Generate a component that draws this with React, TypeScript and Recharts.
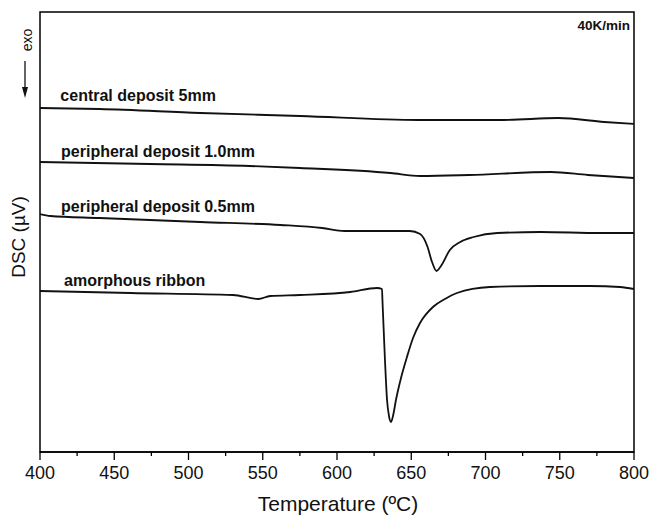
import React from 'react';
import {
  LineChart,
  Line,
  XAxis,
  YAxis,
  ReferenceArea,
  ReferenceDot,
  Customized
} from 'recharts';

// temperatures (ºC) and DSC signal (arbitrary µV offset units)
const centralT = [400, 440, 508, 575, 655, 712, 749, 780, 800];
const centralV = [34.4, 34.3, 33.9, 33.6, 33.2, 33.2, 33.4, 33.0, 32.8];

const periph10T = [400, 474, 541, 575, 636, 656, 689, 744, 769, 800];
const periph10V = [29.0, 28.8, 28.6, 28.4, 27.9, 27.6, 27.7, 28.0, 27.7, 27.4];

const periph05T = [400, 407, 440, 508, 562, 590, 605, 649, 656, 661, 664, 667, 670, 676, 683, 692, 708, 737, 777, 800];
const periph05V = [23.8, 23.6, 23.4, 23.0, 22.7, 22.4, 22.1, 22.1, 21.8, 20.5, 19.0, 18.1, 18.6, 20.2, 21.0, 21.5, 21.9, 22.0, 21.9, 21.9];

const ribbonT = [400, 461, 530, 547, 555, 575, 609, 627, 630.3, 630.6, 632.3, 633.7, 635, 636.4, 637.7, 639.7, 643.1, 647.1, 651.2, 655.9, 664.6, 672.7, 680.8, 703, 736.7, 770.4, 790.6, 800];
const ribbonV = [16.1, 15.9, 15.7, 15.3, 15.6, 15.7, 16.0, 16.4, 16.3, 15.2, 9.2, 5.2, 3.6, 3.0, 3.6, 5.2, 7.4, 9.5, 11.4, 12.9, 14.5, 15.3, 15.9, 16.5, 16.6, 16.6, 16.5, 16.3];

const xTicks = [400, 425, 450, 475, 500, 525, 550, 575, 600, 625, 650, 675, 700, 725, 750, 775, 800];

const seriesLabels = [
  { name: 'central deposit 5mm', t: 411, v: 35.7 },
  { name: 'peripheral deposit 1.0mm', t: 411.5, v: 30.1 },
  { name: 'peripheral deposit 0.5mm', t: 411.5, v: 24.6 },
  { name: 'amorphous ribbon', t: 413.5, v: 17.2 },
];

const toRows = (ts: number[], vs: number[]) => ts.map((t, i) => ({ t, v: vs[i] }));

const central = toRows(centralT, centralV);
const periph10 = toRows(periph10T, periph10V);
const periph05 = toRows(periph05T, periph05V);
const ribbon = toRows(ribbonT, ribbonV);

const FONT = '"Liberation Sans", Arial, Helvetica, sans-serif';

const TempTick = (props: any) => {
  const { x, y, payload } = props;
  const major = payload.value % 50 === 0;
  return (
    <g>
      <line x1={x} x2={x} y1={y} y2={y + (major ? 8 : 4)} stroke="#000" strokeWidth={1.3} />
      {major && (
        <text x={x} y={y + 27} textAnchor="middle" fontSize={18} fontFamily={FONT} fill="#111">
          {payload.value}
        </text>
      )}
    </g>
  );
};

const Annotations = () => (
  <g fontFamily={FONT} fill="#111">
    <text x={338} y={511} textAnchor="middle" fontSize={21}>Temperature (ºC)</text>
    <text x={25} y={237} textAnchor="middle" fontSize={19} transform="rotate(-90 25 237)">DSC (µV)</text>
    <text x={32} y={40} textAnchor="middle" fontSize={14} transform="rotate(-90 32 40)">exo</text>
    <line x1={25} x2={25} y1={61} y2={90} stroke="#111" strokeWidth={1.3} />
    <polygon points="22,87 28,87 25,98" fill="#111" />
    <text x={630} y={30} textAnchor="end" fontSize={13.5} fontWeight="bold">40K/min</text>
  </g>
);

export default function App() {
  return (
    <div style={{ position: 'absolute', left: 0, top: 0, background: '#fff' }}>
      <LineChart width={652} height={517} margin={{ top: 12, right: 18, bottom: 25, left: 40 }}>
        <XAxis
          type="number"
          dataKey="t"
          domain={[400, 800]}
          ticks={xTicks}
          allowDataOverflow
          height={40}
          tickSize={0}
          tickMargin={0}
          tickLine={false}
          axisLine={{ stroke: '#000', strokeWidth: 1.5 }}
          tick={<TempTick />}
          interval={0}
        />
        <YAxis type="number" domain={[0, 44]} hide allowDataOverflow />
        <ReferenceArea x1={400} x2={800} y1={0} y2={44} fill="none" stroke="#000" strokeWidth={1.5} ifOverflow="visible" />
        <Line data={central} dataKey="v" type="monotone" stroke="#111" strokeWidth={1.8} dot={false} isAnimationActive={false} />
        <Line data={periph10} dataKey="v" type="monotone" stroke="#111" strokeWidth={1.8} dot={false} isAnimationActive={false} />
        <Line data={periph05} dataKey="v" type="monotone" stroke="#111" strokeWidth={1.8} dot={false} isAnimationActive={false} />
        <Line data={ribbon} dataKey="v" type="monotone" stroke="#111" strokeWidth={1.8} dot={false} isAnimationActive={false} />
        {seriesLabels.map((s) => (
          <ReferenceDot
            key={s.name}
            x={s.t}
            y={s.v}
            r={0}
            stroke="none"
            ifOverflow="visible"
            label={{ value: s.name, position: 'right', offset: 4, fontSize: 16, fontWeight: 'bold', fontFamily: FONT, fill: '#111' }}
          />
        ))}
        <Customized component={<Annotations />} />
      </LineChart>
    </div>
  );
}
